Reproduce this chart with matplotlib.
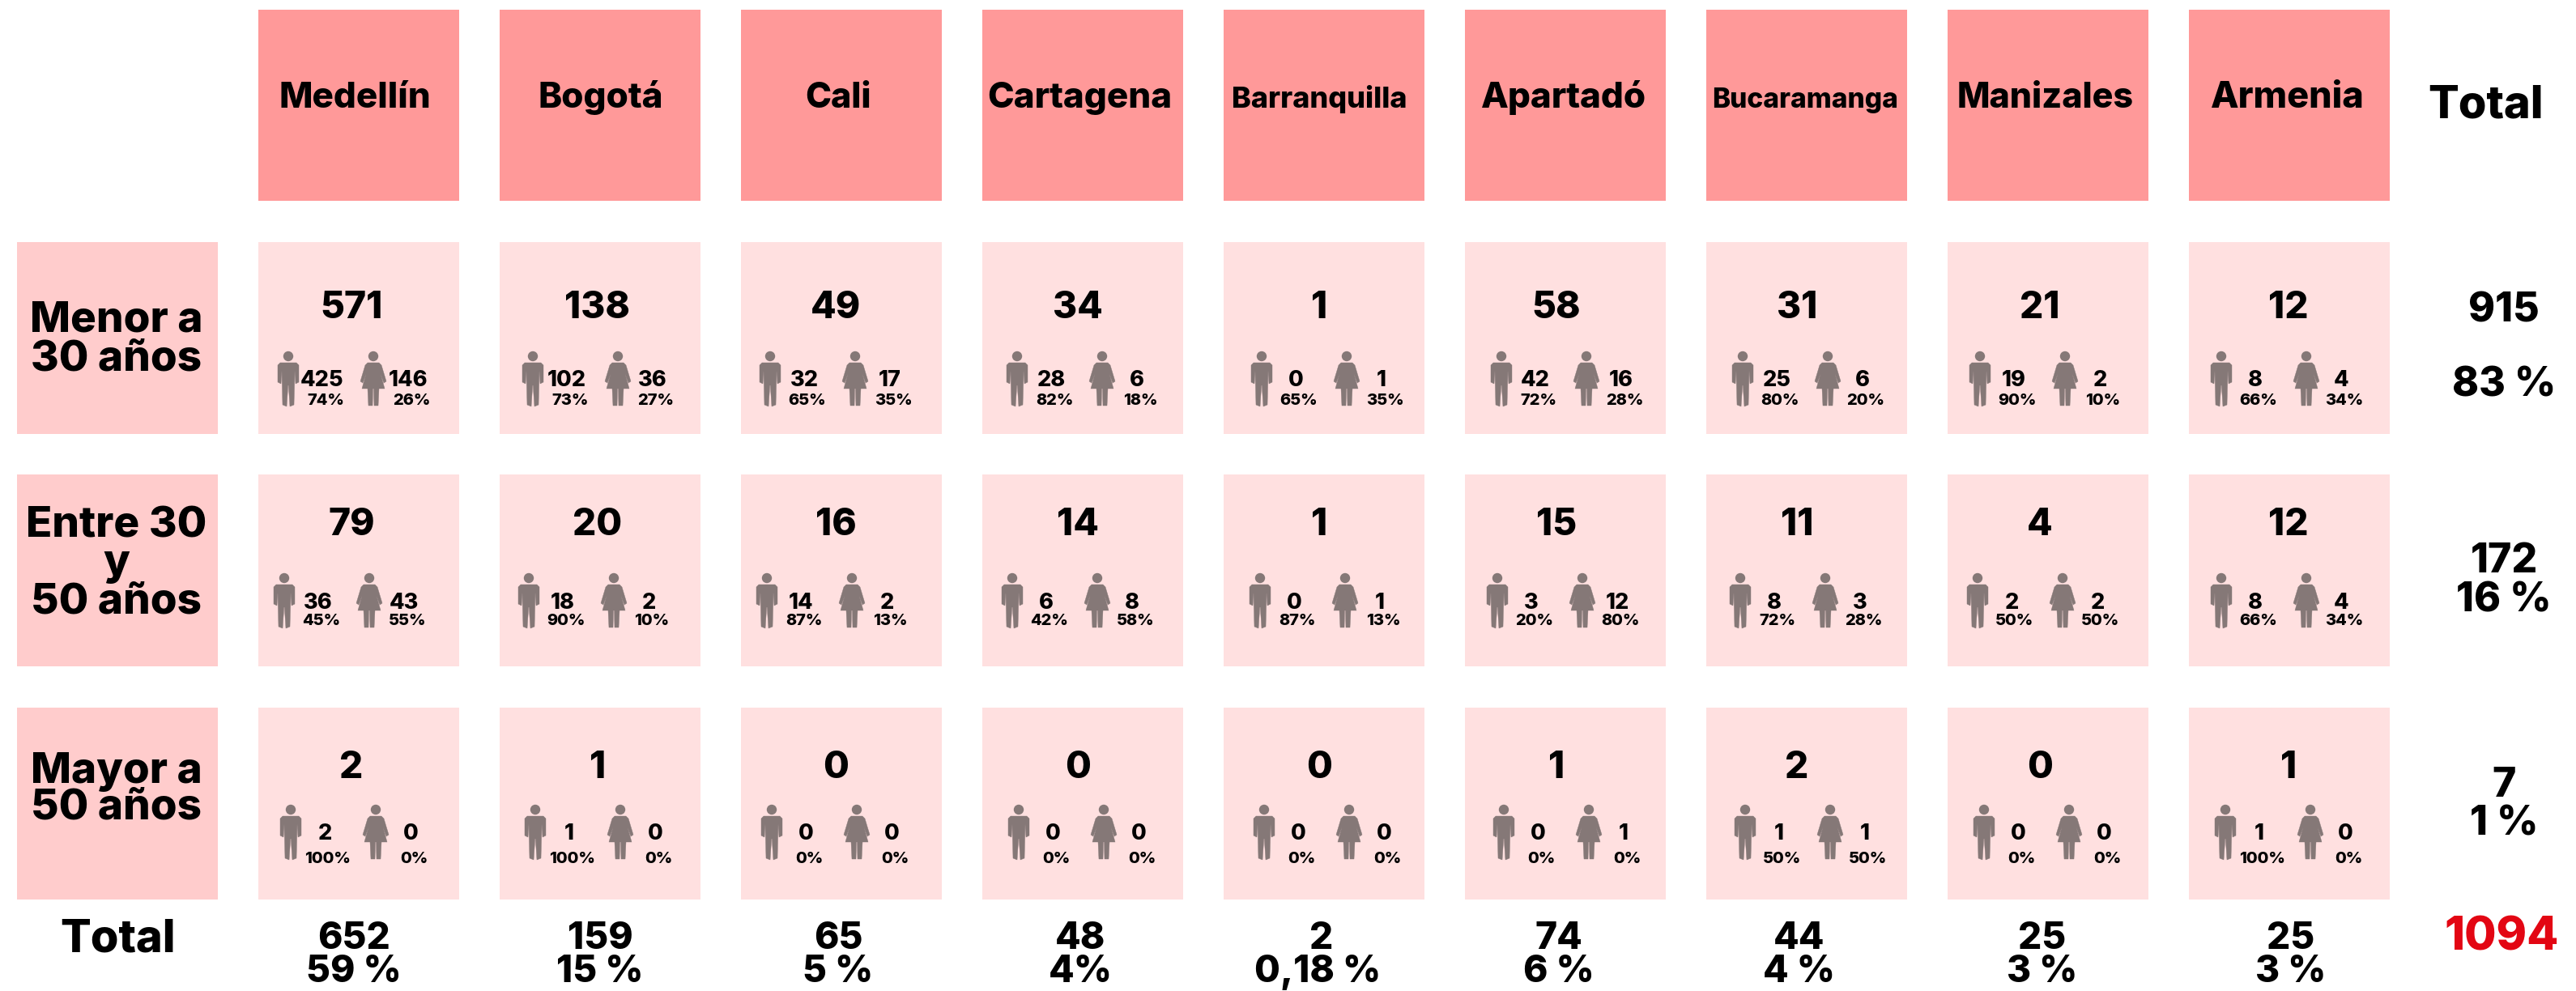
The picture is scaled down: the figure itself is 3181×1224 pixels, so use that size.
#!/usr/bin/env python3
"""
Table of people per city and age group, with men / women breakdown.
"""

import matplotlib
matplotlib.use("Agg")
import matplotlib.pyplot as plt
from matplotlib.patches import Rectangle, Circle, Polygon

cities = ["Medellín", "Bogotá", "Cali", "Cartagena", "Barranquilla",
          "Apartadó", "Bucaramanga", "Manizales", "Armenia"]
age_groups = [["Menor a", "30 años"], ["Entre 30", "y", "50 años"], ["Mayor a", "50 años"]]

totals = [
    [571, 138, 49, 34, 1, 58, 31, 21, 12],
    [79, 20, 16, 14, 1, 15, 11, 4, 12],
    [2, 1, 0, 0, 0, 1, 2, 0, 1],
]
men = [
    [425, 102, 32, 28, 0, 42, 25, 19, 8],
    [36, 18, 14, 6, 0, 3, 8, 2, 8],
    [2, 1, 0, 0, 0, 0, 1, 0, 1],
]
women = [
    [146, 36, 17, 6, 1, 16, 6, 2, 4],
    [43, 2, 2, 8, 1, 12, 3, 2, 4],
    [0, 0, 0, 0, 0, 1, 1, 0, 0],
]
men_pct = [
    [74, 73, 65, 82, 65, 72, 80, 90, 66],
    [45, 90, 87, 42, 87, 20, 72, 50, 66],
    [100, 100, 0, 0, 0, 0, 50, 0, 100],
]
women_pct = [
    [26, 27, 35, 18, 35, 28, 20, 10, 34],
    [55, 10, 13, 58, 13, 80, 28, 50, 34],
    [0, 0, 0, 0, 0, 0, 50, 0, 0],
]
row_totals = [915, 172, 7]
row_pct = ["83 %", "16 %", "1 %"]
col_totals = [652, 159, 65, 48, 2, 74, 44, 25, 25]
col_pct = ["59 %", "15 %", "5 %", "4%", "0,18 %", "6 %", "4 %", "3 %", "3 %"]
grand_total = 1094

# layout, in pixels of the 3181x1224 picture
COL_LEFT = [319 + 298 * i for i in range(9)]
ROW_TOP = [299, 586, 874]
BOX_W = 248
BOX_H = 237
ICON_OFFSET = [
    [37, 41, 36, 43, 47, 45, 45, 40, 40],
    [32, 36, 32, 37, 45, 40, 42, 37, 40],
    [40, 44, 38, 45, 50, 48, 48, 45, 45],
]
ICON_TOP = [434, 708, 994]
COUNT_BASE = [477, 752, 1037]
PCT_BASE = [500, 772, 1066]
BIG_BASE = [393, 661, 961]
BIG_X = [434, 738, 1032, 1331, 1629, 1922, 2219, 2519, 2826]
HEADER_SIZE = [44, 44, 43, 44, 36, 44, 33.5, 43, 45]
HEADER_X = [438, 742, 1035, 1333, 1629, 1931, 2229, 2526, 2825]
LABEL_LINES = [[410, 457], [663, 710, 757], [967, 1012]]
RIGHT_BASE = [[398, 489], [707, 755], [984, 1031]]

ICON_COLOR = "#857877"
FONT = "Inter"


def px(size):
    return size * 72 / 100


def put(ax, x, y, s, size, color="black"):
    ax.text(x, y, s, fontsize=px(size), fontweight=800, family=FONT,
            color=color, ha="center", va="baseline")


def draw_man(ax, cx, top):
    ax.add_patch(Circle((cx, top + 6), 6.2, fc=ICON_COLOR, ec="none"))
    body = [(-10, 14), (10, 14), (13, 17), (13, 38), (9, 40), (8, 24), (7, 66),
            (2, 68), (0.3, 42), (-0.3, 42), (-2, 68), (-7, 66), (-8, 24), (-9, 40),
            (-13, 38), (-13, 17)]
    ax.add_patch(Polygon([(cx + a, top + b) for a, b in body], fc=ICON_COLOR,
                         ec=ICON_COLOR, lw=0.3, joinstyle="round"))


def draw_woman(ax, cx, top):
    ax.add_patch(Circle((cx, top + 6), 6.2, fc=ICON_COLOR, ec="none"))
    body = [(-7, 14), (7, 14), (10, 17), (16, 37), (13, 39), (9, 28), (14, 46),
            (7, 46), (6, 67), (1, 67), (0.5, 46), (-0.5, 46), (-1, 67), (-6, 67), (-7, 46),
            (-14, 46), (-9, 28), (-13, 39), (-16, 37), (-10, 17)]
    ax.add_patch(Polygon([(cx + a, top + b) for a, b in body], fc=ICON_COLOR,
                         ec=ICON_COLOR, lw=0.3, joinstyle="round"))


def main():
    fig = plt.figure(figsize=(31.81, 12.24), dpi=100)
    ax = fig.add_axes([0, 0, 1, 1])
    ax.set_xlim(0, 3181)
    ax.set_ylim(1224, 0)
    ax.axis("off")

    # City headers
    for c, city in enumerate(cities):
        ax.add_patch(Rectangle((COL_LEFT[c], 12), BOX_W, 236, fc="#FF9999", ec="none"))
        put(ax, HEADER_X[c], 133, city, HEADER_SIZE[c])
    put(ax, 3070, 145, "Total", 56)

    for r, lines in enumerate(age_groups):
        # Age group label
        ax.add_patch(Rectangle((21, ROW_TOP[r]), BOX_W, BOX_H, fc="#FFCCCC", ec="none"))
        for line, base in zip(lines, LABEL_LINES[r]):
            put(ax, 144, base, line, 53)

        for c in range(9):
            ax.add_patch(Rectangle((COL_LEFT[c], ROW_TOP[r]), BOX_W, BOX_H,
                                   fc="#FFE0E0", ec="none"))
            put(ax, BIG_X[c], BIG_BASE[r], str(totals[r][c]), 46)

            man_x = COL_LEFT[c] + ICON_OFFSET[r][c]
            woman_x = man_x + 105
            draw_man(ax, man_x, ICON_TOP[r])
            draw_woman(ax, woman_x, ICON_TOP[r])
            put(ax, man_x + 42, COUNT_BASE[r], str(men[r][c]), 27)
            put(ax, woman_x + 43, COUNT_BASE[r], str(women[r][c]), 27)
            put(ax, man_x + 46, PCT_BASE[r], f"{men_pct[r][c]}%", 20)
            put(ax, woman_x + 47, PCT_BASE[r], f"{women_pct[r][c]}%", 20)

        put(ax, 3092, RIGHT_BASE[r][0], str(row_totals[r]), 50)
        put(ax, 3092, RIGHT_BASE[r][1], row_pct[r], 50)

    # Bottom totals
    put(ax, 146, 1176, "Total", 56)
    for c in range(9):
        put(ax, BIG_X[c] + 3, 1172, str(col_totals[c]), 46)
        put(ax, BIG_X[c] + 3 - (5 if c == 4 else 0), 1213, col_pct[c], 46)
    put(ax, 3089, 1173, str(grand_total), 57, color="#E30613")

    fig.savefig("out.png", dpi=100, facecolor="white")
    plt.close(fig)


if __name__ == "__main__":
    main()
